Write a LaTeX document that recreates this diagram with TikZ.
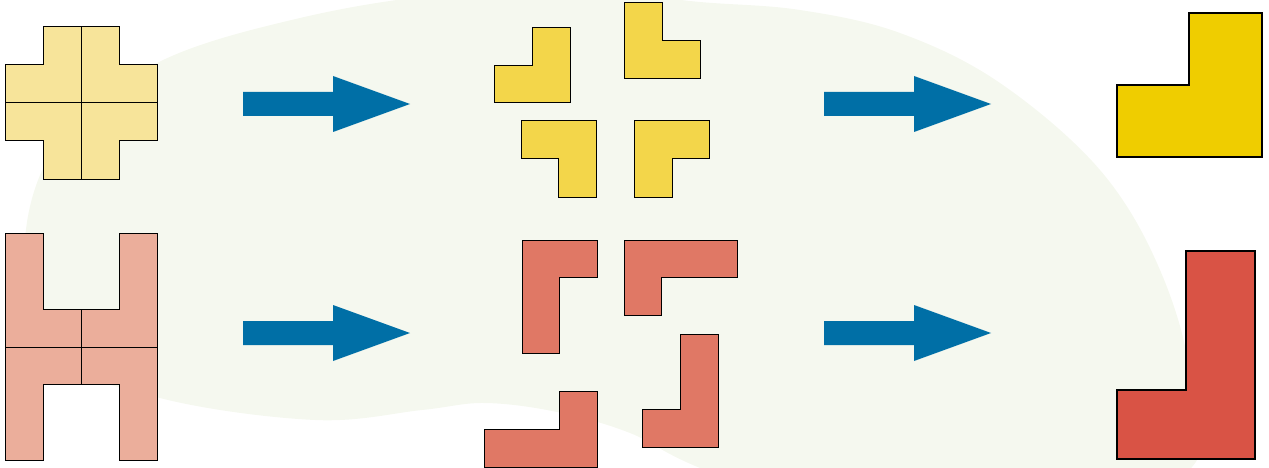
\documentclass[tikz,border=0pt]{standalone}
\usepackage{xcolor}

\definecolor{blobgreen}{HTML}{F5F8EF}
\definecolor{arrowblue}{HTML}{006FA6}
\definecolor{crossyellow}{HTML}{F7E49A}
\definecolor{pieceyellow}{HTML}{F3D64A}
\definecolor{bigyellow}{HTML}{EFCD00}
\definecolor{hred}{HTML}{EBAE9B}
\definecolor{piecered}{HTML}{E07865}
\definecolor{bigred}{HTML}{D95345}

\tikzset{
  piece/.style={draw=black, line width=1pt, line join=miter},
  bigpiece/.style={draw=black, line width=2.2pt, line join=miter},
  blockarrow/.style={fill=arrowblue}
}

\begin{document}
\begin{tikzpicture}[x=1pt, y=-1pt]
        \useasboundingbox (0,0) rectangle (1269,468);

        % Background blob
        \begin{scope}
        \clip (0,0) rectangle (1269,468);
        \fill[blobgreen] plot[smooth cycle, tension=0.6] coordinates {
          (25,240) (60,140) (157,63) (300,18) (450,-6) (600,-8) (700,2)
          (800,10) (900,33) (1000,83) (1100,170) (1160,270) (1190,380)
          (1175,480) (900,540) (705,470) (630,433) (557,412) (485,403)
          (422,410) (315,420) (160,398) (45,350)};
        \end{scope}

        % Left side (cross and H shapes)
        \draw[piece, fill=crossyellow] (43,27) -- (119,27) -- (119,65) -- (157,65)
          -- (157,141) -- (119,141) -- (119,179) -- (43,179) -- (43,141)
          -- (5,141) -- (5,65) -- (43,65) -- cycle;
        \draw[line width=1pt] (81,27) -- (81,179);
        \draw[line width=1pt] (5,103) -- (157,103);

        \draw[piece, fill=hred] (5,233) -- (43,233) -- (43,309) -- (119,309)
          -- (119,233) -- (157,233) -- (157,460) -- (119,460) -- (119,384)
          -- (43,384) -- (43,460) -- (5,460) -- cycle;
        \draw[line width=1pt] (5,347) -- (157,347);
        \draw[line width=1pt] (81,309) -- (81,384);

        % Arrows to the pieces
        \fill[blockarrow] (243,92) -- (333,92) -- (333,76) -- (410,104)
          -- (333,132) -- (333,116) -- (243,116) -- cycle;
        \fill[blockarrow] (243,321) -- (333,321) -- (333,305) -- (410,333)
          -- (333,361) -- (333,345) -- (243,345) -- cycle;

        % Middle (yellow pieces)
        \draw[piece, fill=pieceyellow] (494,103) -- (570,103) -- (570,28)
          -- (532,28) -- (532,66) -- (494,66) -- cycle;
        \draw[piece, fill=pieceyellow] (624,3) -- (662,3) -- (662,41)
          -- (700,41) -- (700,79) -- (624,79) -- cycle;
        \draw[piece, fill=pieceyellow] (521,121) -- (596,121) -- (596,197)
          -- (558,197) -- (558,159) -- (521,159) -- cycle;
        \draw[piece, fill=pieceyellow] (634,121) -- (709,121) -- (709,159)
          -- (672,159) -- (672,197) -- (634,197) -- cycle;

        % Middle (red pieces)
        \draw[piece, fill=piecered] (522,240) -- (597,240) -- (597,277)
          -- (559,277) -- (559,353) -- (522,353) -- cycle;
        \draw[piece, fill=piecered] (624,240) -- (737,240) -- (737,277)
          -- (661,277) -- (661,315) -- (624,315) -- cycle;
        \draw[piece, fill=piecered] (680,334) -- (718,334) -- (718,447)
          -- (642,447) -- (642,409) -- (680,409) -- cycle;
        \draw[piece, fill=piecered] (484,429) -- (559,429) -- (559,391)
          -- (597,391) -- (597,467) -- (484,467) -- cycle;

        % Arrows to the big pieces
        \fill[blockarrow] (824,92) -- (914,92) -- (914,76) -- (991,104)
          -- (914,132) -- (914,116) -- (824,116) -- cycle;
        \fill[blockarrow] (824,321) -- (914,321) -- (914,305) -- (991,333)
          -- (914,361) -- (914,345) -- (824,345) -- cycle;

        % Right side (big pieces)
        \draw[bigpiece, fill=bigyellow] (1117,157) -- (1262,157) -- (1262,13)
          -- (1189,13) -- (1189,85) -- (1117,85) -- cycle;
        \draw[bigpiece, fill=bigred] (1117,459) -- (1255,459) -- (1255,251)
          -- (1186,251) -- (1186,390) -- (1117,390) -- cycle;
\end{tikzpicture}
\end{document}
